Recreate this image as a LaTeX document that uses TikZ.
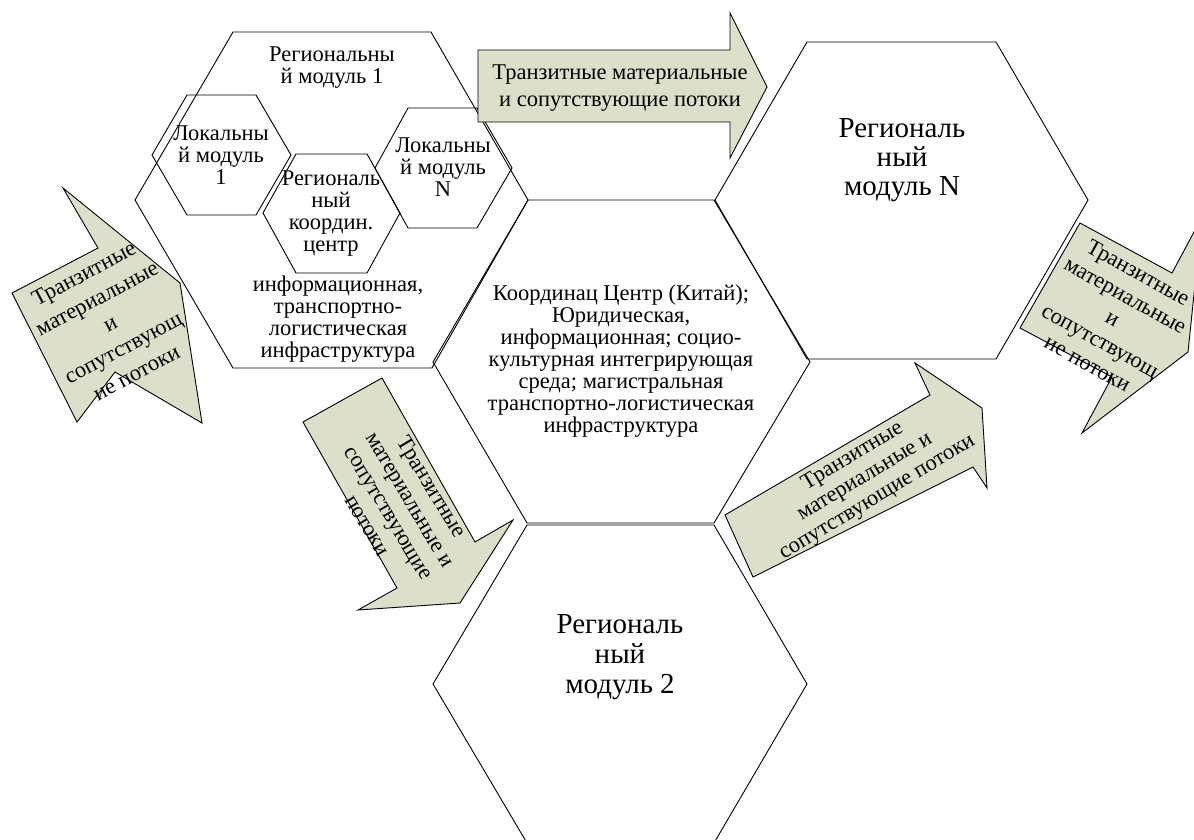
\documentclass[tikz,border=0pt]{standalone}
\usepackage{fontspec}
\setmainfont{Liberation Serif}
\definecolor{arrowfill}{RGB}{221,223,203}
\tikzset{
  hexline/.style={draw=black, line width=0.9pt, line join=miter},
  flowarrow/.style={draw=black, fill=arrowfill, line width=0.9pt, line join=miter},
  smalltxt/.style={align=center, inner sep=0pt, font=\fontsize{22.5}{22}\selectfont},
  arrowtxt/.style={align=center, inner sep=0pt, font=\fontsize{22.5}{26}\selectfont},
  bigtxt/.style={align=center, inner sep=0pt, font=\fontsize{29}{29}\selectfont}
}
\begin{document}
\begin{tikzpicture}[x=1pt, y=-1pt]
\useasboundingbox (0,0) rectangle (1194,839);
\clip (0,0) rectangle (1194,839);
\fill[white] (0,0) rectangle (1194,839);

% large hexagons
\draw[hexline] (233,32) -- (431,32) -- (528,200) -- (432,368) -- (233,368) -- (135,200) -- cycle;
\draw[hexline] (528,200) -- (714,200) -- (810,362) -- (714,523) -- (527,523) -- (433,362) -- cycle;
\draw[hexline] (807,42) -- (996,42) -- (1088,200) -- (996,359) -- (807,359) -- (715,200) -- cycle;
\draw[hexline] (527,525) -- (714,525) -- (807,684) -- (714,843) -- (527,843) -- (433,684) -- cycle;

% small hexagons inside regional module 1
\draw[hexline] (187,95) -- (256,95) -- (291,155) -- (256,215) -- (187,215) -- (152,155) -- cycle;
\draw[hexline] (408,108) -- (477,108) -- (512,168) -- (477,228) -- (408,228) -- (375,168) -- cycle;
\draw[hexline] (296,154) -- (367,154) -- (400,213) -- (367,273) -- (296,273) -- (263,213) -- cycle;

% block arrows
\draw[flowarrow] (478,50) -- (730,50) -- (730,13) -- (767,87) -- (730,158) -- (730,122) -- (478,122) -- cycle;
\draw[flowarrow] (63,188) -- (98,248) -- (12,293) -- (77,422) -- (115,372) -- (202,423) -- (180,283) -- cycle;
\draw[flowarrow] (303,422) -- (382,378) -- (475,542) -- (513,520) -- (460,603) -- (358,610) -- (397,588) -- cycle;
\draw[flowarrow] (725,515) -- (930,395) -- (915,363) -- (982,408) -- (987,488) -- (973,467) -- (753,577) -- cycle;
\draw[flowarrow] (1080,223) -- (1172,273) -- (1202,217) -- (1188,352) -- (1082,433) -- (1112,377) -- (1020,328) -- cycle;

% texts
\node[smalltxt] (m1title) at (332,68) {Региональны\\й модуль 1};
\node[smalltxt] (loc1) at (221,155) {Локальны\\й модуль\\1};
\node[smalltxt] (locN) at (443,167) {Локальны\\й модуль\\N};
\node[smalltxt] (rcc) at (331,214) {Региональ\\ный\\координ.\\центр};
\node[smalltxt] (m1infra) at (338,319) {информационная,\\транспортно-\\логистическая\\инфраструктура};
\node[smalltxt] (center) at (621,361) {Координац Центр (Китай);\\Юридическая,\\информационная; социо-\\культурная интегрирующая\\среда; магистральная\\транспортно-логистическая\\инфраструктура};
\node[bigtxt] (mN) at (902,160) {Региональ\\ный\\модуль N};
\node[bigtxt, font=\fontsize{29}{30}\selectfont] (m2) at (620,657) {Региональ\\ный\\модуль 2};

\node[arrowtxt, font=\fontsize{22.5}{27}\selectfont] (a1txt) at (620,88) {Транзитные материальные\\и сопутствующие потоки};
\node[arrowtxt, rotate=28, font=\fontsize{22.5}{28}\selectfont] (a2txt) at (110,323) {Транзитные\\материальные\\и\\сопутствующ\\ие потоки};
\node[arrowtxt, rotate=-59, font=\fontsize{22.5}{25}\selectfont] (a3txt) at (400,506) {Транзитные\\материальные и\\сопутствующие\\потоки};
\node[arrowtxt, rotate=31, font=\fontsize{22.5}{24}\selectfont] (a4txt) at (865,477) {Транзитные\\материальные и\\сопутствующие потоки};
\node[arrowtxt, rotate=-29, font=\fontsize{22.5}{26}\selectfont] (a5txt) at (1113,318) {Транзитные\\материальные\\и\\сопутствующ\\ие потоки};
\end{tikzpicture}
\end{document}
